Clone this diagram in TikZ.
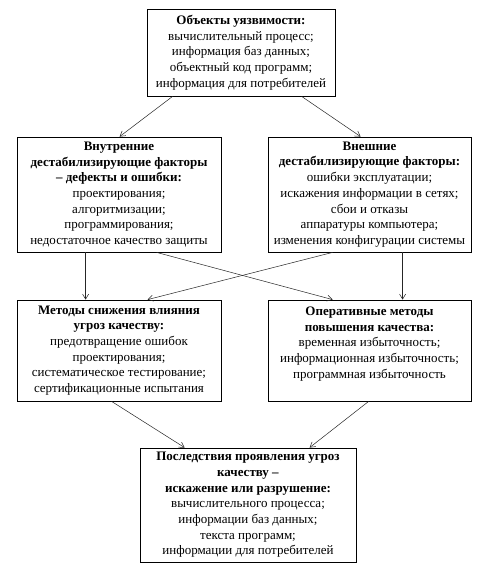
\documentclass[tikz,border=0pt]{standalone}
\usepackage{fontspec}
\setmainfont{Liberation Serif}
\usetikzlibrary{arrows.meta,shadows}
\begin{document}
\begin{tikzpicture}[x=1pt,y=-1pt,
  box/.style={draw=black,line width=0.8pt,fill=white,align=center,inner sep=0pt,
    font=\fontsize{13}{15.7}\selectfont,
    general shadow={shadow xshift=1.3pt,shadow yshift=-1.3pt,fill=gray!70}},
  arr/.style={draw=black!85,line width=0.5pt,-{Straight Barb[length=5pt,width=6pt]}}]
\useasboundingbox (0,0) rectangle (480,575);
\fill[white] (0,0) rectangle (480,575);
\node[box,minimum width=188pt,minimum height=87pt] (top) at (241,52.5)
 {\textbf{Объекты уязвимости:}\\вычислительный процесс;\\информация баз данных;\\объектный код программ;\\информация для потребителей};
\node[box,minimum width=204pt,minimum height=115pt] (int) at (119,194.5)
 {\textbf{Внутренние}\\\textbf{дестабилизирующие факторы}\\\textbf{– дефекты и ошибки:}\\проектирования;\\алгоритмизации;\\программирования;\\недостаточное качество защиты};
\node[box,minimum width=203pt,minimum height=115pt] (ext) at (369.5,194.5)
 {\textbf{Внешние}\\\textbf{дестабилизирующие факторы:}\\ошибки эксплуатации;\\искажения информации в сетях;\\сбои и отказы\\аппаратуры компьютера;\\изменения конфигурации системы};
\node[box,minimum width=204pt,minimum height=101pt] (met) at (119,350.5)
 {\textbf{Методы снижения влияния}\\\textbf{угроз качеству:}\\предотвращение ошибок\\проектирования;\\систематическое тестирование;\\сертификационные испытания};
\node[box,minimum width=203pt,minimum height=101pt] (oper) at (369.5,350.5)
 {\textbf{Оперативные методы}\\\textbf{повышения качества:}\\временная избыточность;\\информационная избыточность;\\программная избыточность\\\mbox{}};
\node[box,minimum width=216pt,minimum height=114pt] (cons) at (248,505)
 {\textbf{Последствия проявления угроз}\\\textbf{качеству –}\\\textbf{искажение или разрушение:}\\вычислительного процесса;\\информации баз данных;\\текста программ;\\информации для потребителей};
\draw[arr] ([xshift=26pt]top.south west) -- ([xshift=103pt]int.north west);
\draw[arr] ([xshift=155pt]top.south west) -- ([xshift=93pt]ext.north west);
\draw[arr] ([xshift=69pt]int.south west) -- ([xshift=69pt]met.north west);
\draw[arr] ([xshift=140pt]int.south west) -- ([xshift=65pt]oper.north west);
\draw[arr] ([xshift=65pt]ext.south west) -- ([xshift=131pt]met.north west);
\draw[arr] ([xshift=135pt]ext.south west) -- ([xshift=135pt]oper.north west);
\draw[arr] ([xshift=95pt]met.south west) -- ([xshift=45pt]cons.north west);
\draw[arr] ([xshift=101pt]oper.south west) -- ([xshift=170pt]cons.north west);
\end{tikzpicture}
\end{document}
